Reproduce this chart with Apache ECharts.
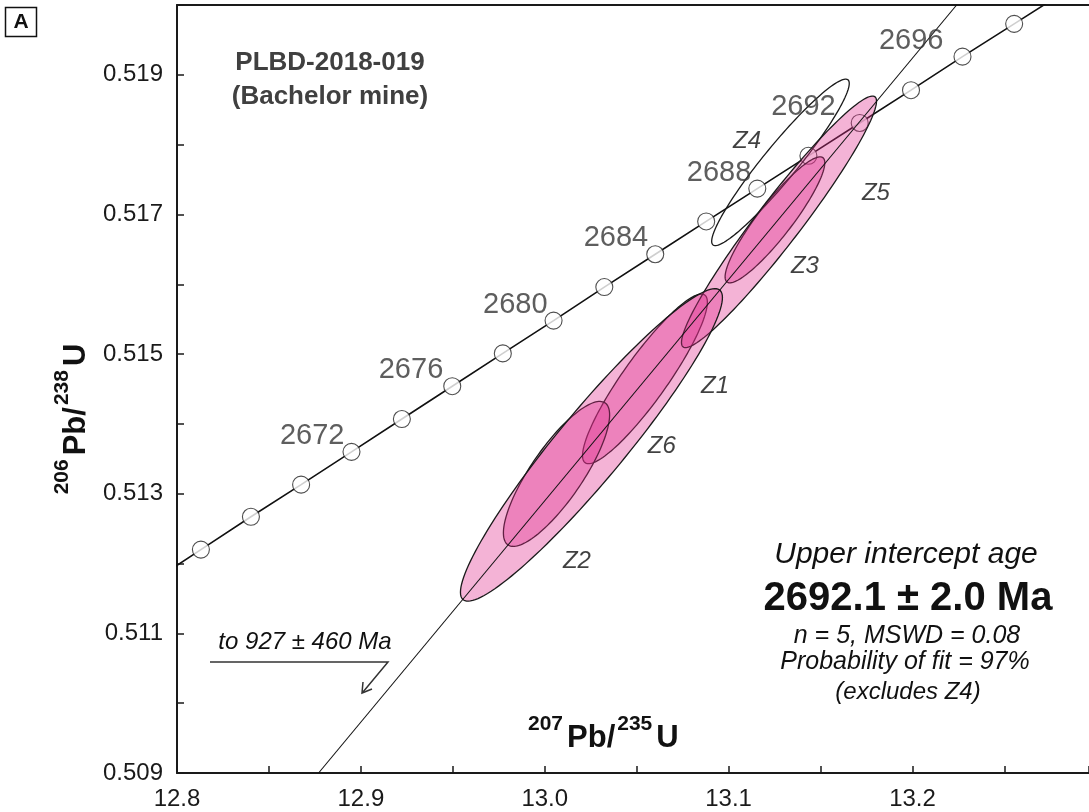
<!DOCTYPE html>
<html>
<head>
<meta charset="utf-8">
<title>PLBD-2018-019 concordia</title>
<script src="https://cdn.jsdelivr.net/npm/echarts@6/dist/echarts.min.js"></script>
<style>
  html, body { margin: 0; padding: 0; background: #fff; }
  #chart { width: 1089px; height: 812px; }
</style>
</head>
<body>
<div id="chart"></div>
<script>
  var FONT = 'Liberation Sans, Arial, Helvetica, sans-serif';

  // concordia, one point every 2 Ma
  var concAges = [2664, 2666, 2668, 2670, 2672, 2674, 2676, 2678, 2680, 2682,
                  2684, 2686, 2688, 2690, 2692, 2694, 2696, 2698, 2700];
  var concX = [12.7858, 12.8130, 12.8402, 12.8675, 12.8949, 12.9223, 12.9497, 12.9772, 13.0048, 13.0324,
               13.0601, 13.0878, 13.1156, 13.1434, 13.1713, 13.1992, 13.2272, 13.2553, 13.2834];
  var concY = [0.51173, 0.51220, 0.51267, 0.51313, 0.51360, 0.51407, 0.51454, 0.51501, 0.51548, 0.51596,
               0.51643, 0.51690, 0.51737, 0.51784, 0.51831, 0.51878, 0.51926, 0.51973, 0.52020];
  var labelledAges = [2672, 2676, 2680, 2684, 2688, 2692, 2696];

  // zircon analyses, 2 sigma ellipses (centre, half widths, rho)
  var zircons = ['Z1', 'Z2', 'Z3', 'Z4', 'Z5', 'Z6'];
  var ellX   = [13.0545, 13.0064, 13.1252, 13.1282, 13.1274, 13.0254];
  var ellY   = [0.514645, 0.513284, 0.516923, 0.517746, 0.516894, 0.513699];
  var ellSx  = [0.03395, 0.02888, 0.02711, 0.03741, 0.05303, 0.07124];
  var ellSy  = [0.001215, 0.001038, 0.000902, 0.001192, 0.001802, 0.002238];
  var ellRho = [0.904, 0.814, 0.905, 0.948, 0.959, 0.943];
  var excluded = ['Z4'];
  var zLabelX = [13.0926, 13.0175, 13.1415, 13.1100, 13.1801, 13.0637];
  var zLabelY = [0.514544, 0.512037, 0.516264, 0.518054, 0.517309, 0.513685];

  // discordia chord through the upper intercept
  var discX = [12.877, 13.224];
  var discY = [0.509, 0.520];

  var chart = echarts.init(document.getElementById('chart'));

  var concLine = concX.map(function (x, i) { return [x, concY[i]]; });
  var concDots = [];
  var ageLabels = [];
  var labelGap = { 2672: 7, 2676: 9, 2680: 6, 2684: 7, 2688: 6, 2692: 24, 2696: 19 };
  concAges.forEach(function (a, i) {
    if (a >= 2666 && a <= 2698) concDots.push([concX[i], concY[i]]);
    if (labelledAges.indexOf(a) >= 0) {
      ageLabels.push({ name: String(a), value: [concX[i], concY[i]], label: { distance: labelGap[a] } });
    }
  });
  var ellData = zircons.map(function (z, i) {
    return [ellX[i], ellY[i], ellSx[i], ellSy[i], ellRho[i], excluded.indexOf(z) < 0 ? 1 : 0];
  });
  var zLabels = zircons.map(function (z, i) { return { name: z, value: [zLabelX[i], zLabelY[i]] }; });

  function renderEllipse(params, api) {
    var cx = api.value(0), cy = api.value(1), sx = api.value(2), sy = api.value(3);
    var rho = api.value(4), filled = api.value(5);
    var k = Math.sqrt(1 - rho * rho);
    var pts = [];
    for (var i = 0; i < 144; i++) {
      var t = i / 144 * Math.PI * 2;
      pts.push(api.coord([cx + sx * Math.cos(t), cy + sy * (rho * Math.cos(t) + k * Math.sin(t))]));
    }
    return {
      type: 'polygon',
      shape: { points: pts },
      style: {
        fill: filled ? 'rgba(225,45,140,0.36)' : 'none',
        stroke: '#1a1a1a',
        lineWidth: 1.3
      }
    };
  }

  // superscript isotope labels
  var isoRich = {
    s: { fontSize: 21, fontWeight: 'bold', fontFamily: FONT, fill: '#111', lineHeight: 20, verticalAlign: 'top', padding: [0, 4, 0, 0] },
    m: { fontSize: 31, fontWeight: 'bold', fontFamily: FONT, fill: '#111', lineHeight: 40, verticalAlign: 'bottom', padding: [0, 2, 0, 0] }
  };

  var option = {
    animation: false,
    backgroundColor: '#fff',
    textStyle: { fontFamily: FONT },
    grid: { left: 177, right: 0, top: 5, bottom: 39, outerBoundsMode: 'none' },
    xAxis: [{
      type: 'value',
      min: 12.8,
      max: 13.296,
      interval: 0.05,
      axisLine: { lineStyle: { color: '#1a1a1a', width: 2 } },
      axisTick: { inside: true, length: 7, lineStyle: { color: '#1a1a1a', width: 1.5 } },
      axisLabel: {
        fontSize: 24, color: '#1a1a1a', margin: 14, fontFamily: FONT,
        formatter: function (v) {
          return Math.abs(v * 10 - Math.round(v * 10)) < 1e-6 ? v.toFixed(1) : '';
        }
      },
      splitLine: { show: false }
    }, {
      type: 'value',
      position: 'top',
      min: 12.8,
      max: 13.296,
      axisLine: { show: true, lineStyle: { color: '#1a1a1a', width: 2 } },
      axisTick: { show: false },
      axisLabel: { show: false },
      splitLine: { show: false }
    }],
    yAxis: {
      type: 'value',
      min: 0.509,
      max: 0.520,
      interval: 0.001,
      axisLine: { show: true, lineStyle: { color: '#1a1a1a', width: 2 } },
      axisTick: { show: true, inside: true, length: 7, lineStyle: { color: '#1a1a1a', width: 1.5 } },
      axisLabel: {
        fontSize: 24, color: '#1a1a1a', margin: 14, fontFamily: FONT,
        formatter: function (v) {
          return Math.round(v * 1000) % 2 === 1 ? v.toFixed(3) : '';
        }
      },
      splitLine: { show: false }
    },
    series: [{
      name: 'concordia',
      type: 'line',
      data: concLine,
      showSymbol: false,
      clip: true,
      z: 2,
      lineStyle: { color: '#111', width: 1.6 }
    }, {
      name: 'age markers',
      type: 'scatter',
      data: concDots,
      symbol: 'circle',
      symbolSize: 17,
      clip: true,
      z: 3,
      itemStyle: { color: '#fff', borderColor: '#222', borderWidth: 1.1 }
    }, {
      name: 'analyses',
      type: 'custom',
      data: ellData,
      encode: { x: 0, y: 1 },
      renderItem: renderEllipse,
      z: 4
    }, {
      name: 'discordia',
      type: 'line',
      data: discX.map(function (x, i) { return [x, discY[i]]; }),
      showSymbol: false,
      clip: true,
      z: 5,
      lineStyle: { color: '#111', width: 1.1 }
    }, {
      name: 'ages',
      type: 'scatter',
      data: ageLabels,
      symbolSize: 0,
      z: 6,
      label: {
        show: true,
        position: 'left',
        offset: [0, -16],
        formatter: '{b}',
        fontSize: 29,
        color: '#363636',
        fontFamily: FONT
      }
    }, {
      name: 'zircon labels',
      type: 'scatter',
      data: zLabels,
      symbolSize: 0,
      z: 6,
      label: {
        show: true,
        position: 'inside',
        formatter: '{b}',
        fontSize: 24,
        fontStyle: 'italic',
        color: '#111',
        fontFamily: FONT
      }
    }],
    graphic: [
      { type: 'rect', shape: { x: 5.5, y: 7.5, width: 31, height: 29 },
        style: { fill: '#fff', stroke: '#111', lineWidth: 1.5 } },
      { type: 'text', x: 21, y: 22,
        style: { text: 'A', font: 'bold 21px ' + FONT, fill: '#111', align: 'center', verticalAlign: 'middle' } },
      { type: 'text', x: 330, y: 63,
        style: { text: 'PLBD-2018-019', font: 'bold 26px ' + FONT, fill: '#404040', align: 'center', verticalAlign: 'middle' } },
      { type: 'text', x: 330, y: 97,
        style: { text: '(Bachelor mine)', font: 'bold 26px ' + FONT, fill: '#404040', align: 'center', verticalAlign: 'middle' } },
      { type: 'text', x: 906, y: 555,
        style: { text: 'Upper intercept age', font: 'italic 30px ' + FONT, fill: '#111', align: 'center', verticalAlign: 'middle' } },
      { type: 'text', x: 908, y: 599,
        style: { text: '2692.1 \u00b1 2.0 Ma', font: 'bold 40px ' + FONT, fill: '#111', align: 'center', verticalAlign: 'middle' } },
      { type: 'text', x: 907, y: 636,
        style: { text: 'n = 5, MSWD = 0.08', font: 'italic 25px ' + FONT, fill: '#111', align: 'center', verticalAlign: 'middle' } },
      { type: 'text', x: 905, y: 662,
        style: { text: 'Probability of fit = 97%', font: 'italic 25px ' + FONT, fill: '#111', align: 'center', verticalAlign: 'middle' } },
      { type: 'text', x: 908, y: 692,
        style: { text: '(excludes Z4)', font: 'italic 24px ' + FONT, fill: '#111', align: 'center', verticalAlign: 'middle' } },
      { type: 'text', x: 305, y: 642,
        style: { text: 'to 927 \u00b1 460 Ma', font: 'italic 24px ' + FONT, fill: '#111', align: 'center', verticalAlign: 'middle' } },
      { type: 'polyline', shape: { points: [[210, 662], [388, 662], [363, 692]] },
        style: { stroke: '#333', lineWidth: 1.5, fill: null } },
      { type: 'polyline', shape: { points: [[363, 682], [362, 693], [372, 689]] },
        style: { stroke: '#333', lineWidth: 1.5, fill: null } },
      { type: 'text', x: 528, y: 734,
        style: { text: '{s|207}{m|Pb/}{s|235}{m|U}', align: 'left', verticalAlign: 'middle', rich: isoRich } },
      { type: 'text', x: 72, y: 418, rotation: Math.PI / 2,
        style: { text: '{s|206}{m|Pb/}{s|238}{m|U}', align: 'center', verticalAlign: 'middle', rich: isoRich } }
    ]
  };

  chart.setOption(option);
</script>
</body>
</html>
